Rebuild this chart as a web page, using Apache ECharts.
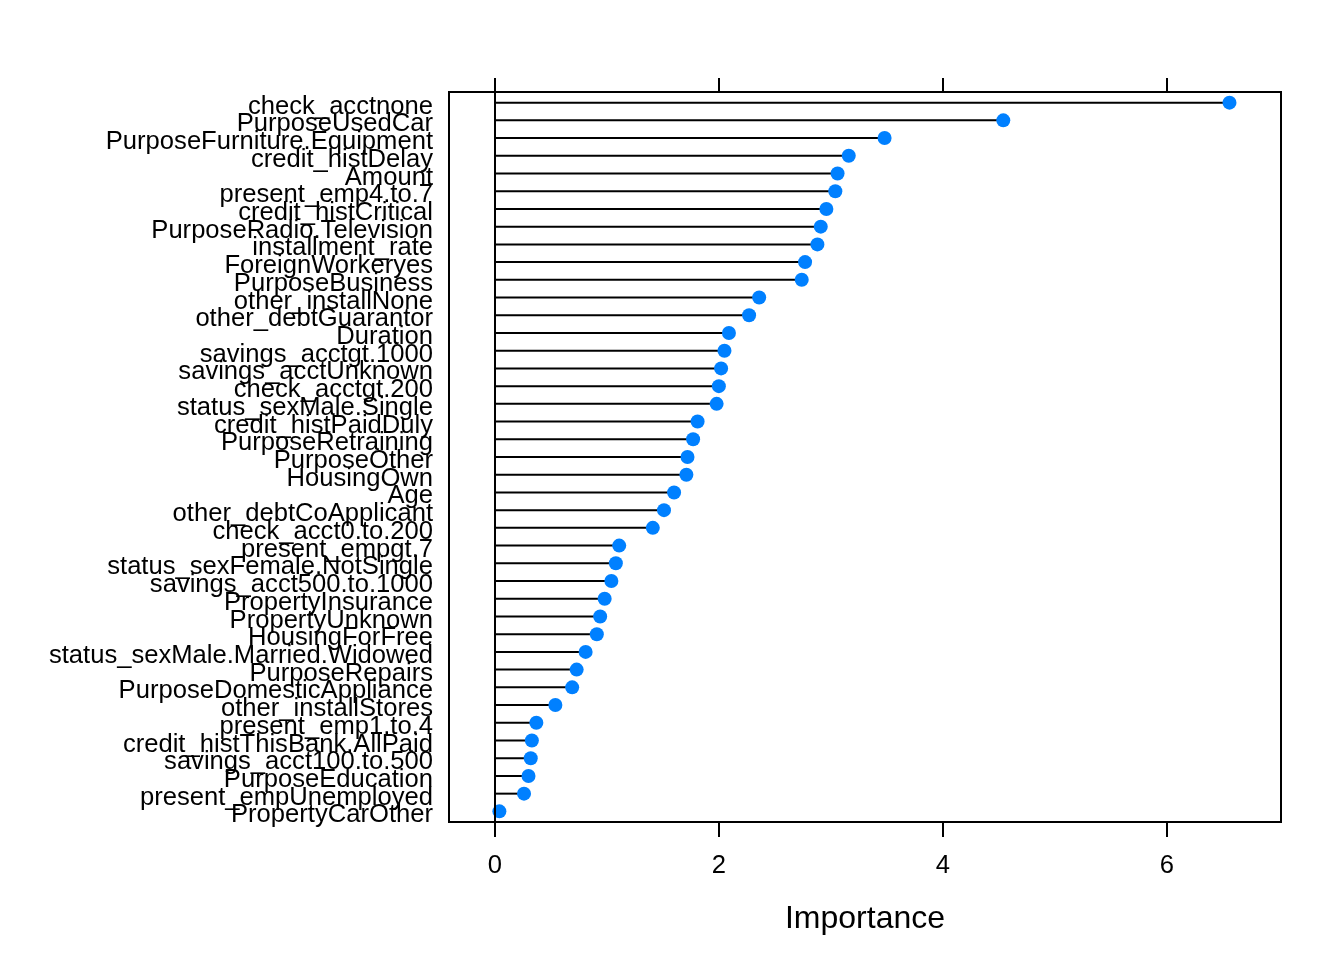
<!DOCTYPE html>
<html><head><meta charset="utf-8">
<script src="https://cdn.jsdelivr.net/npm/echarts@6/dist/echarts.min.js"></script>
<style>html,body{margin:0;padding:0;background:#fff}#c{width:1344px;height:960px}</style>
</head><body><div id="c"></div>
<script>
const categories = [
  'check_acctnone','PurposeUsedCar','PurposeFurniture.Equipment','credit_histDelay','Amount',
  'present_emp4.to.7','credit_histCritical','PurposeRadio.Television','installment_rate','ForeignWorkeryes',
  'PurposeBusiness','other_installNone','other_debtGuarantor','Duration','savings_acctgt.1000',
  'savings_acctUnknown','check_acctgt.200','status_sexMale.Single','credit_histPaidDuly','PurposeRetraining',
  'PurposeOther','HousingOwn','Age','other_debtCoApplicant','check_acct0.to.200',
  'present_empgt.7','status_sexFemale.NotSingle','savings_acct500.to.1000','PropertyInsurance','PropertyUnknown',
  'HousingForFree','status_sexMale.Married.Widowed','PurposeRepairs','PurposeDomesticAppliance','other_installStores',
  'present_emp1.to.4','credit_histThisBank.AllPaid','savings_acct100.to.500','PurposeEducation','present_empUnemployed',
  'PropertyCarOther'
];
const importance = [
  6.56, 4.54, 3.48, 3.16, 3.06,
  3.04, 2.96, 2.91, 2.88, 2.77,
  2.74, 2.36, 2.27, 2.09, 2.05,
  2.02, 2.00, 1.98, 1.81, 1.77,
  1.72, 1.71, 1.60, 1.51, 1.41,
  1.11, 1.08, 1.04, 0.98, 0.94,
  0.91, 0.81, 0.73, 0.69, 0.54,
  0.37, 0.33, 0.32, 0.30, 0.26,
  0.04
];
const xTicks = [0, 2, 4, 6];
const xTitle = 'Importance';

const FONT = "'Liberation Sans', Arial, sans-serif";
const pts = importance.map((v, i) => [v, i + 1]);

// plot box geometry
const BOX = {left: 449, right: 63, top: 92, bottom: 138};
const N = categories.length;
const unit = (960 - BOX.top - BOX.bottom) / (N + 0.2);   // y range 0.4 .. N+0.6
const LABEL_SHIFT = 4;
const labelGrid = {
  left: BOX.left, right: BOX.right,
  top: BOX.top + 0.1 * unit + LABEL_SHIFT,
  bottom: BOX.bottom + 0.1 * unit - LABEL_SHIFT,
  show: false
};

const chart = echarts.init(document.getElementById('c'), null, {renderer: 'canvas'});
chart.setOption({
  animation: false,
  backgroundColor: '#fff',
  textStyle: {fontFamily: FONT, color: '#000'},
  grid: [
    Object.assign({show: true, borderColor: '#000', borderWidth: 2, backgroundColor: 'transparent'}, BOX),
    labelGrid
  ],
  xAxis: [{
    gridIndex: 0, type: 'value', position: 'bottom', min: -0.41, max: 7.02,
    axisLine: {show: false}, splitLine: {show: false},
    axisTick: {show: true, customValues: xTicks, length: 15, lineStyle: {color: '#000', width: 2}},
    axisLabel: {show: true, customValues: xTicks, fontSize: 25.6, color: '#000', fontFamily: FONT, margin: 31},
    name: xTitle, nameLocation: 'middle', nameGap: 81,
    nameTextStyle: {fontSize: 32, color: '#000', fontFamily: FONT}
  }, {
    gridIndex: 0, type: 'value', position: 'top', min: -0.41, max: 7.02,
    axisLine: {show: false}, splitLine: {show: false},
    axisTick: {show: true, customValues: xTicks, length: 14, lineStyle: {color: '#000', width: 2}},
    axisLabel: {show: false}
  }, {
    gridIndex: 1, type: 'value', min: -0.41, max: 7.02, show: false
  }],
  yAxis: [{
    gridIndex: 0, type: 'value', inverse: true, min: 0.4, max: N + 0.6,
    axisLine: {show: false}, axisTick: {show: false}, splitLine: {show: false},
    axisLabel: {show: false}
  }, {
    gridIndex: 1, type: 'category', inverse: true, data: categories, boundaryGap: true,
    axisLine: {show: false}, axisTick: {show: false}, splitLine: {show: false},
    axisLabel: {show: true, interval: 0, fontSize: 25.6, color: '#000', fontFamily: FONT, margin: 16}
  }],
  series: [{
    type: 'custom',
    xAxisIndex: 0, yAxisIndex: 0,
    data: pts,
    renderItem: (params, api) => {
      const y = api.value(1);
      const p0 = api.coord([0, y]);
      const p1 = api.coord([api.value(0), y]);
      return {type: 'line', shape: {x1: p0[0], y1: p0[1], x2: p1[0], y2: p1[1]}, style: {stroke: '#000', lineWidth: 2}};
    },
    markLine: {
      silent: true, symbol: 'none', label: {show: false},
      lineStyle: {color: '#000', width: 2, type: 'solid'},
      data: [{xAxis: 0}]
    },
    z: 2
  }, {
    type: 'scatter',
    xAxisIndex: 0, yAxisIndex: 0,
    data: pts,
    symbol: 'circle', symbolSize: 14,
    itemStyle: {color: '#0080FF', opacity: 1},
    z: 3
  }]
});
</script>
</body></html>
